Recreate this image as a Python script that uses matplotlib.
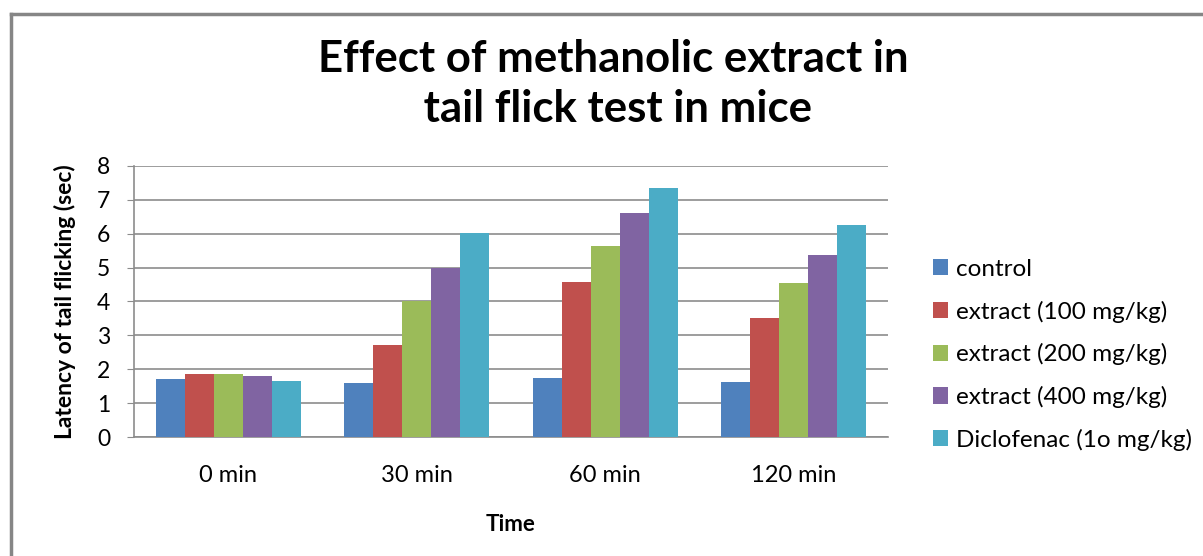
import numpy as np
import matplotlib.pyplot as plt

plt.rcParams['font.family'] = ['Lato', 'DejaVu Sans']

times = ['0 min', '30 min', '60 min', '120 min']
control = [1.73, 1.59, 1.76, 1.63]
extract_100 = [1.85, 2.72, 4.56, 3.51]
extract_200 = [1.85, 4.02, 5.62, 4.53]
extract_400 = [1.80, 5.00, 6.62, 5.36]
diclofenac = [1.67, 6.02, 7.34, 6.25]

series = [control, extract_100, extract_200, extract_400, diclofenac]
names = ['control', 'extract (100 mg/kg)', 'extract (200 mg/kg)',
         'extract (400 mg/kg)', 'Diclofenac (1o mg/kg)']
colors = ['#4F81BD', '#C0504D', '#9BBB59', '#8064A2', '#4BACC6']

fig = plt.figure(figsize=(12.03, 5.56), dpi=100)
ax = fig.add_axes([0.1114, 0.2135, 0.6268, 0.4885])

# outer chart border (left and top visible in the reference)
fig.add_artist(plt.Line2D([11 / 1203, 11 / 1203], [0, 1 - 14 / 556],
                          color='#868686', lw=2.5, transform=fig.transFigure))
fig.add_artist(plt.Line2D([11 / 1203, 1], [1 - 14 / 556, 1 - 14 / 556],
                          color='#868686', lw=2.5, transform=fig.transFigure))

x = np.arange(len(times))
w = 0.1538
for i, (vals, name, c) in enumerate(zip(series, names, colors)):
    ax.bar(x + (i - 2) * w, vals, width=w, color=c, label=name, zorder=3)

ax.set_xlim(-0.5, 3.5)
ax.set_ylim(0, 8)
ax.set_yticks(range(0, 9))
ax.set_xticks(x)
ax.set_xticklabels(times)
ax.yaxis.grid(True, color='#8c8c8c', lw=1.2, zorder=0)
ax.tick_params(axis='y', length=5, color='#8c8c8c', labelsize=16.5, pad=12)
ax.tick_params(axis='x', length=0, labelsize=17, pad=20)
for s in ['top', 'right']:
    ax.spines[s].set_visible(False)
ax.spines['left'].set_color('#8c8c8c')
ax.spines['bottom'].set_color('#8c8c8c')
ax.spines['left'].set_linewidth(1.2)
ax.spines['bottom'].set_linewidth(1.2)

ax.set_ylabel('Latency of tail flicking (sec)', fontsize=16.5, fontweight='bold', labelpad=15)
ax.set_xlabel('Time', fontsize=16, fontweight='bold', labelpad=20)

fig.text(0.5095, 1 - 84 / 556, 'Effect of methanolic extract in\n tail flick test in mice',
         ha='center', va='center', fontsize=31.5, fontweight='bold', linespacing=1.3)

fig.legend(loc='upper left', bbox_to_anchor=(0.757, 1 - 237 / 556), frameon=False,
           fontsize=17.5, handlelength=0.65, handleheight=0.65, handletextpad=0.3,
           labelspacing=0.85)

fig.savefig('out.png', dpi=100)
